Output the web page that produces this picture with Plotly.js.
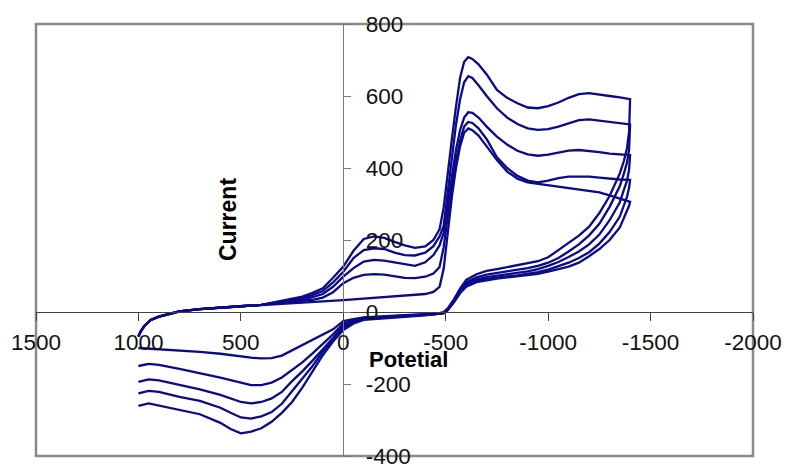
<!DOCTYPE html>
<html>
<head>
<meta charset="utf-8">
<script src="https://cdn.plot.ly/plotly-3.0.1.min.js"></script>
<style>
  html, body { margin: 0; padding: 0; background: #fff; }
  #chart { width: 789px; height: 467px; }
</style>
</head>
<body>
<div id="chart"></div>
<script>
// Potential (mV) of the forward (cathodic) sweep, +1000 -> -1400
const forwardPotential = [1000, 990, 970, 940, 900, 850, 800, 700, 600, 500, 400, 300, 200, 150, 100, 50, 0, -50, -100, -150, -200, -250, -300, -350, -400, -440, -470, -490, -510, -530, -550, -570, -590, -610, -630, -660, -700, -750, -800, -850, -900, -950, -1000, -1050, -1100, -1150, -1200, -1250, -1300, -1350, -1400];
// Potential (mV) of the reverse (anodic) sweep, -1400 -> +1000
const reversePotential = [-1400, -1395, -1385, -1370, -1350, -1300, -1250, -1200, -1150, -1100, -1050, -1000, -950, -900, -850, -800, -750, -700, -650, -600, -570, -540, -510, -490, -450, -400, -300, -200, -100, -50, 0, 50, 100, 150, 200, 250, 300, 350, 400, 450, 500, 550, 600, 700, 800, 900, 950, 1000];

// Current, forward sweep, cycles 1..5
const cycle1Forward = [-68, -55, -38, -22, -13, -5, 2, 8, 13, 16, 19, 22, 25, 27, 29, 31, 33, 35, 37, 39, 40, 42, 44, 47, 50, 56, 70, 120, 220, 320, 400, 460, 498, 510, 505, 490, 460, 422, 390, 370, 360, 356, 352, 348, 344, 340, 337, 332, 324, 315, 306];
const cycle2Forward = [-68, -55, -38, -22, -13, -5, 2, 8, 13, 16, 20, 25, 30, 34, 40, 55, 80, 95, 103, 105, 104, 99, 95, 94, 98, 107, 125, 180, 270, 350, 420, 475, 515, 528, 525, 510, 480, 430, 400, 378, 365, 360, 365, 372, 376, 377, 376, 373, 370, 368, 367];
const cycle3Forward = [-68, -55, -38, -22, -13, -5, 2, 8, 13, 16, 20, 27, 35, 41, 50, 70, 98, 122, 140, 145, 143, 138, 133, 128, 138, 158, 185, 220, 300, 380, 450, 505, 540, 555, 553, 540, 515, 487, 465, 448, 438, 434, 437, 443, 448, 450, 448, 444, 440, 437, 436];
const cycle4Forward = [-68, -55, -38, -22, -13, -5, 2, 8, 13, 16, 20, 29, 39, 47, 58, 82, 112, 150, 172, 177, 175, 165, 158, 157, 165, 183, 210, 240, 330, 430, 520, 590, 638, 655, 650, 630, 600, 566, 540, 522, 510, 506, 508, 515, 525, 533, 535, 532, 528, 524, 521];
const cycle5Forward = [-68, -55, -38, -22, -13, -5, 2, 8, 13, 16, 20, 31, 43, 53, 66, 95, 126, 170, 203, 210, 206, 195, 185, 178, 182, 200, 230, 290, 390, 480, 570, 650, 695, 708, 703, 688, 660, 617, 595, 580, 568, 566, 572, 582, 595, 605, 608, 605, 600, 596, 591];

// Current, reverse sweep, cycles 1..5
const cycle1Reverse = [306, 295, 282, 262, 235, 200, 175, 155, 137, 126, 118, 112, 106, 102, 99, 96, 93, 89, 83, 70, 52, 27, 5, -3, -5, -6, -9, -12, -15, -20, -25, -48, -63, -78, -93, -108, -121, -128, -129, -127, -123, -119, -116, -111, -108, -104, -102, -100];
const cycle2Reverse = [367, 345, 320, 295, 265, 222, 190, 166, 150, 137, 127, 118, 111, 106, 102, 99, 96, 92, 86, 73, 54, 28, 6, -3, -5, -7, -10, -13, -16, -23, -32, -62, -89, -115, -140, -162, -182, -196, -203, -203, -197, -189, -182, -169, -158, -147, -144, -150];
const cycle3Reverse = [436, 395, 365, 340, 305, 255, 215, 188, 168, 153, 139, 128, 119, 113, 109, 105, 101, 97, 90, 77, 57, 30, 7, -3, -6, -8, -11, -14, -18, -26, -38, -72, -105, -135, -165, -192, -222, -240, -250, -254, -250, -240, -230, -215, -202, -190, -187, -194];
const cycle4Reverse = [521, 450, 415, 385, 350, 292, 245, 213, 188, 168, 150, 137, 128, 122, 117, 113, 109, 104, 96, 82, 60, 32, 8, -2, -6, -8, -12, -15, -20, -29, -44, -78, -110, -150, -185, -220, -255, -278, -290, -296, -293, -280, -266, -247, -236, -222, -219, -226];
const cycle5Reverse = [591, 500, 455, 420, 385, 322, 275, 237, 212, 192, 172, 152, 141, 135, 130, 125, 119, 114, 105, 89, 65, 35, 10, 0, -6, -9, -13, -17, -22, -32, -50, -82, -120, -165, -210, -250, -280, -305, -323, -332, -337, -325, -308, -284, -272, -258, -254, -261];

const xTickValues = [1500, 1000, 500, 0, -500, -1000, -1500, -2000];
const yTickValues = [-400, -200, 0, 200, 400, 600, 800];
const xTitle = "Potetial";
const yTitle = "Current";

const forwards = [cycle1Forward, cycle2Forward, cycle3Forward, cycle4Forward, cycle5Forward];
const reverses = [cycle1Reverse, cycle2Reverse, cycle3Reverse, cycle4Reverse, cycle5Reverse];

const lineColor = '#0a0a8a';
const traces = forwards.map((f, i) => ({
  type: 'scatter',
  mode: 'lines',
  x: forwardPotential.concat(reversePotential),
  y: f.concat(reverses[i]),
  line: { color: lineColor, width: 2.3 },
  showlegend: false,
  hoverinfo: 'x+y'
}));

const tickFont = { family: '"Liberation Sans", Arial, sans-serif', size: 22.5, color: '#111' };

const layout = {
  width: 789,
  height: 467,
  margin: { l: 36, r: 36, t: 24, b: 11, pad: 0 },
  paper_bgcolor: '#ffffff',
  plot_bgcolor: '#ffffff',
  showlegend: false,
  xaxis: {
    range: [1500, -2000],
    tickvals: xTickValues,
    ticktext: xTickValues.map(String),
    anchor: 'free',
    position: 400 / 1200,
    showgrid: false,
    zeroline: false,
    showline: true,
    linecolor: '#404040',
    linewidth: 1,
    ticks: 'outside',
    ticklen: 8,
    tickwidth: 1,
    tickcolor: '#404040',
    tickfont: tickFont,
    ticklabelstandoff: 2,
    ticklabeloverflow: 'allow'
  },
  yaxis: {
    range: [-400, 800],
    tickvals: yTickValues,
    ticktext: yTickValues.map(String),
    anchor: 'free',
    position: 1500 / 3500,
    side: 'right',
    showgrid: false,
    zeroline: false,
    showline: true,
    linecolor: '#7a7a7a',
    linewidth: 1,
    ticks: 'outside',
    ticklen: 7,
    tickwidth: 1,
    tickcolor: '#7a7a7a',
    tickfont: tickFont,
    ticklabelstandoff: 10,
    ticklabeloverflow: 'allow'
  },
  shapes: [{
    type: 'rect', xref: 'paper', yref: 'paper',
    x0: 0, x1: 1, y0: 0, y1: 1,
    line: { color: '#8a8a8a', width: 2.5 },
    layer: 'below'
  }],
  annotations: [
    {
      text: '<b>' + yTitle + '</b>',
      xref: 'paper', yref: 'paper',
      x: (228 - 36) / 717, y: (456 - 219) / 432,
      xanchor: 'center', yanchor: 'middle',
      showarrow: false, textangle: -90,
      font: { family: '"Liberation Sans", Arial, sans-serif', size: 23, color: '#000' }
    },
    {
      text: '<b>' + xTitle + '</b>',
      xref: 'paper', yref: 'paper',
      x: (408 - 36) / 717, y: (456 - 359) / 432,
      xanchor: 'center', yanchor: 'middle',
      showarrow: false,
      font: { family: '"Liberation Sans", Arial, sans-serif', size: 22, color: '#000' }
    }
  ]
};

Plotly.newPlot('chart', traces, layout, { staticPlot: true, displayModeBar: false });
</script>
</body>
</html>
